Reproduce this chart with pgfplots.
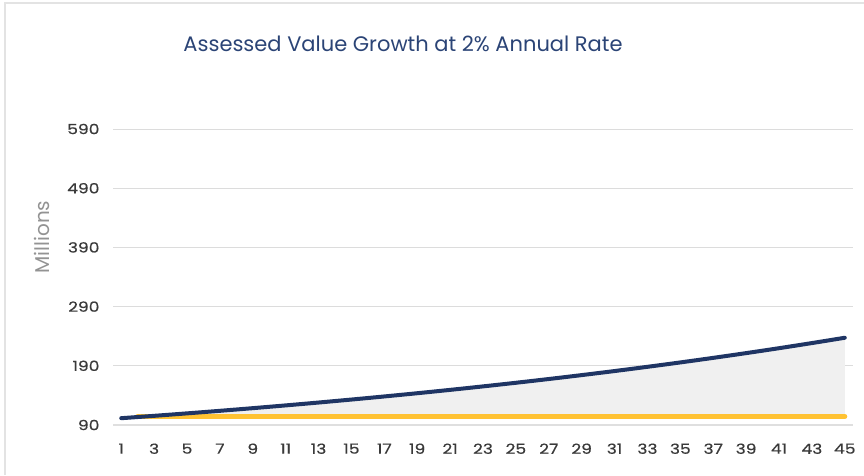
\documentclass[border=0pt]{standalone}
\usepackage{pgfplots}
\pgfplotsset{compat=1.18}
\usepackage{fontspec}
\setmainfont{Poppins}
\newfontfamily\tickfont{Poppins}[FakeStretch=1.22, FakeBold=0.4]
\definecolor{navy}{HTML}{1F3564}
\definecolor{gold}{HTML}{FFC232}
\definecolor{titlec}{HTML}{2B4476}
\definecolor{tickc}{HTML}{3A3A3A}
\definecolor{gridc}{HTML}{DCDCDC}
\definecolor{fillc}{HTML}{F0F0F0}
\begin{document}
\begin{tikzpicture}
\useasboundingbox[fill=white] (0pt,0pt) rectangle (864pt,475pt);
\draw[color=gridc!80, line width=2pt] (5pt,0pt) -- (5pt,472pt) -- (864pt,472pt);
\node[text=titlec, font=\fontsize{21}{24}\selectfont] at (403pt,431pt) {Assessed Value Growth at 2\% Annual Rate};
\begin{axis}[
  at={(113pt,50pt)}, anchor=south west,
  scale only axis, width=740pt, height=296pt,
  xmin=0.5, xmax=45.5, ymin=90, ymax=590,
  xtick={1,3,...,45}, ytick={90,190,...,590},
  axis line style={draw=none},
  axis x line*=bottom, axis y line*=left,
  major tick length=0pt,
  ymajorgrids, grid style={gridc, line width=1pt},
  tick label style={text=tickc, font=\tickfont\fontsize{14}{16}\selectfont},
  /pgf/number format/assume math mode=true,
  yticklabel style={xshift=-10pt},
  xticklabel style={yshift=-15pt},
  ylabel={Millions},
  ylabel style={text=gray!85, font=\fontsize{20}{22}\selectfont, at={(axis description cs:0,0.635)}, yshift=71pt, anchor=center},
  clip=false,
]
\addplot[fill=fillc, draw=none] coordinates {
(2,103.48) (3,105.49) (4,107.55) (5,109.65) (6,111.78) (7,113.96) (8,116.18) (9,118.45) (10,120.76)
(11,123.11) (12,125.51) (13,127.96) (14,130.46) (15,133.00) (16,135.59) (17,138.24) (18,140.93)
(19,143.68) (20,146.48) (21,149.34) (22,152.25) (23,155.22) (24,158.25) (25,161.33) (26,164.48)
(27,167.69) (28,170.96) (29,174.29) (30,177.69) (31,181.15) (32,184.69) (33,188.29) (34,191.96)
(35,195.70) (36,199.52) (37,203.41) (38,207.38) (39,211.42) (40,215.54) (41,219.74) (42,224.03)
(43,228.40) (44,232.85) (45,237.39) (45,104.5) (2,104.5)} -- cycle;
\addplot[gold, line width=5pt, line cap=round] coordinates {(2,104.5) (45,104.5)};
\addplot[navy, line width=4pt, line cap=round, line join=round] coordinates {
(1,101.5) (2,103.48) (3,105.49) (4,107.55) (5,109.65) (6,111.78) (7,113.96) (8,116.18) (9,118.45) (10,120.76)
(11,123.11) (12,125.51) (13,127.96) (14,130.46) (15,133.00) (16,135.59) (17,138.24) (18,140.93)
(19,143.68) (20,146.48) (21,149.34) (22,152.25) (23,155.22) (24,158.25) (25,161.33) (26,164.48)
(27,167.69) (28,170.96) (29,174.29) (30,177.69) (31,181.15) (32,184.69) (33,188.29) (34,191.96)
(35,195.70) (36,199.52) (37,203.41) (38,207.38) (39,211.42) (40,215.54) (41,219.74) (42,224.03)
(43,228.40) (44,232.85) (45,237.39)};
\draw[gridc!90, line width=1.2pt] (axis cs:0.5,90) -- (axis cs:45.5,90);
\end{axis}
\end{tikzpicture}
\end{document}
